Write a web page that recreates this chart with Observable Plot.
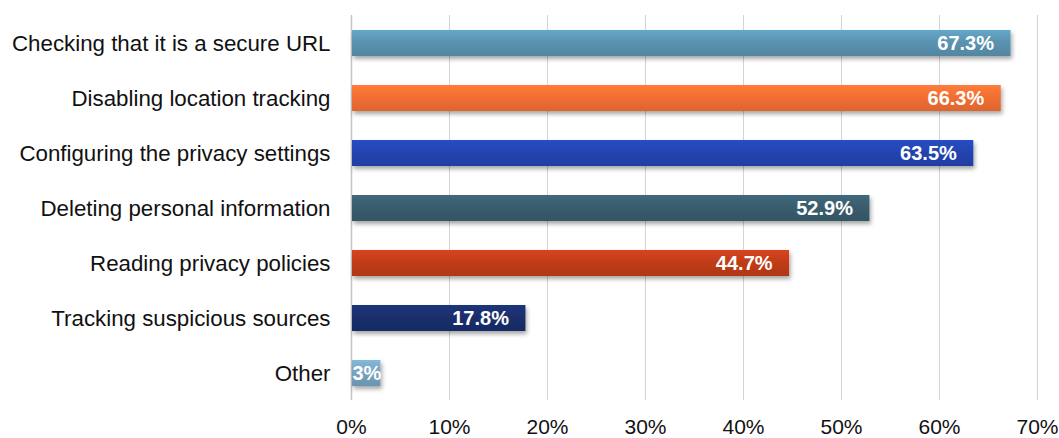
<!DOCTYPE html>
<html>
<head>
<meta charset="utf-8">
<script src="https://cdn.jsdelivr.net/npm/d3@7"></script>
<script src="https://cdn.jsdelivr.net/npm/@observablehq/plot@0.6"></script>
<style>
  html, body { margin: 0; padding: 0; background: #fff; }
  #chart svg { display: block; }
</style>
</head>
<body>
<div id="chart"></div>
<script>
const categories = [
  "Checking that it is a secure URL",
  "Disabling location tracking",
  "Configuring the privacy settings",
  "Deleting personal information",
  "Reading privacy policies",
  "Tracking suspicious sources",
  "Other"
];
const values = [67.3, 66.3, 63.5, 52.9, 44.7, 17.8, 3];
const valueLabels = ["67.3%", "66.3%", "63.5%", "52.9%", "44.7%", "17.8%", "3%"];
const xTicks = [0, 10, 20, 30, 40, 50, 60, 70];

const barColors = ["#5a93b1", "#f26e32", "#2444b0", "#395d6d", "#c03c19", "#1a2f6c", "#75a3bf"];

const data = categories.map((c, i) => ({category: c, value: values[i], label: valueLabels[i], idx: i}));

const chart = Plot.plot({
  width: 1059,
  height: 438,
  marginLeft: 351,
  marginRight: 22,
  marginTop: 15,
  marginBottom: 38,
  style: {fontFamily: "'Liberation Sans', Arial, sans-serif", color: "#111", background: "#fff"},
  x: {domain: [0, 70], ticks: xTicks, tickFormat: d => d + "%", label: null},
  y: {domain: categories, label: null, paddingInner: 0.53, paddingOuter: 0.26},
  color: {type: "identity"},
  marks: [
    Plot.gridX(xTicks, {stroke: "#d4d4d4", strokeOpacity: 1}),
    Plot.ruleX([0], {stroke: "#c4c4c4", strokeWidth: 1.5}),
    Plot.axisX({ticks: xTicks, tickFormat: d => d + "%", tickSize: 0, tickPadding: 19, fontSize: 21, label: null}),
    Plot.axisY({tickSize: 0, tickPadding: 21, fontSize: 22.3, label: null}),
    Plot.barX(data, {x: "value", y: "category", fill: d => `url(#bargrad-${d.idx})`, insetLeft: 1}),
    Plot.text(data.filter(d => d.value >= 10), {x: "value", y: "category", text: "label", textAnchor: "end", dx: -17, fill: "white", fontWeight: "bold", fontSize: 20}),
    Plot.text(data.filter(d => d.value < 10), {x: 0, y: "category", text: "label", textAnchor: "start", dx: 1, fill: "white", fontWeight: "bold", fontSize: 20})
  ]
});

document.getElementById("chart").appendChild(chart);

const svg = d3.select(chart);
const defs = svg.insert("defs", ":first-child");
barColors.forEach((c, i) => {
  const g = defs.append("linearGradient").attr("id", `bargrad-${i}`).attr("x1", 0).attr("y1", 0).attr("x2", 0).attr("y2", 1);
  g.append("stop").attr("offset", "0%").attr("stop-color", d3.color(c).brighter(0.35).formatHex());
  g.append("stop").attr("offset", "45%").attr("stop-color", c);
  g.append("stop").attr("offset", "100%").attr("stop-color", d3.color(c).darker(0.25).formatHex());
});
const f = defs.append("filter").attr("id", "barshadow").attr("x", "-5%").attr("y", "-30%").attr("width", "115%").attr("height", "190%");
f.append("feDropShadow").attr("dx", 1.5).attr("dy", 3).attr("stdDeviation", 2).attr("flood-color", "#000").attr("flood-opacity", 0.35);
svg.selectAll("g[aria-label='bar']").attr("filter", "url(#barshadow)");
svg.selectAll("g[aria-label='x-axis tick label'] text, g[aria-label='y-axis tick label'] text").attr("fill", "#111");
</script>
</body>
</html>
